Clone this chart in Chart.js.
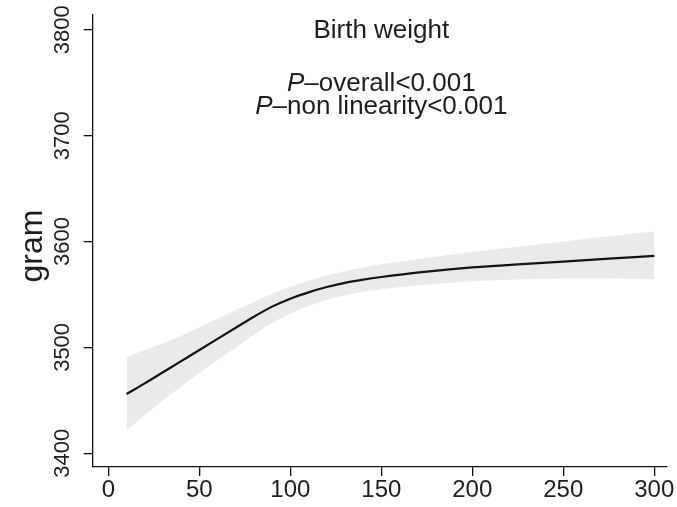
<!DOCTYPE html>
<html>
<head>
<meta charset="utf-8">
<script src="https://cdn.jsdelivr.net/npm/chart.js@4/dist/chart.umd.min.js"></script>
<style>
    html, body { margin: 0; padding: 0; background: #fff; }
    #wrap { width: 677px; height: 507px; }
</style>
</head>
<body>
<div id="wrap"><canvas id="splineChart" width="677" height="507"></canvas></div>
<script>
// exposure values (x) and fitted birth weight with 95% CI (grams)
const xVals  = [10, 20, 30, 40, 50, 60, 70, 80, 90, 100, 110, 120, 130, 140, 150, 175, 200, 225, 250, 275, 300];
const fit    = [3456, 3466, 3476.5, 3487, 3497.5, 3508, 3518.5, 3529, 3538.5, 3546, 3552, 3557, 3561, 3564, 3566.5, 3571.5, 3575.5, 3578.5, 3581, 3583.8, 3586.5];
const upper  = [3491, 3497.5, 3504, 3511, 3519, 3527, 3535, 3543, 3550.5, 3557, 3563, 3568, 3572, 3575.5, 3578.5, 3584.5, 3590, 3595, 3600, 3605, 3609.5];
const lower  = [3422, 3436, 3450, 3463, 3476, 3488, 3500, 3512, 3523, 3532, 3539, 3545, 3549, 3552.5, 3555, 3559.5, 3562.5, 3564.2, 3565, 3565, 3564.5];

const xTicks = [0, 50, 100, 150, 200, 250, 300];
const yTicks = [3400, 3500, 3600, 3700, 3800];

const titleText = 'Birth weight';
const pLines = [
    { prefix: 'P', rest: '\u2013overall<0.001', at: 3749 },
    { prefix: 'P', rest: '\u2013non linearity<0.001', at: 3727 },
];

const FONT = "'Liberation Sans', Arial, Helvetica, sans-serif";
const textColor = '#1e1e1e';

const pts = arr => xVals.map((x, i) => ({ x, y: arr[i] }));

// y tick labels (rotated), axis title and the text block in the plot
const textPlugin = {
    id: 'textPlugin',
    afterDraw(chart) {
        const { ctx, scales: { x, y } } = chart;
        ctx.save();
        ctx.fillStyle = textColor;
        ctx.textAlign = 'center';
        ctx.textBaseline = 'middle';

        ctx.font = `22px ${FONT}`;
        yTicks.forEach(v => {
            ctx.save();
            ctx.translate(63, y.getPixelForValue(v));
            ctx.rotate(-Math.PI / 2);
            ctx.fillText(String(v), 0, 0);
            ctx.restore();
        });

        ctx.save();
        ctx.font = `32px ${FONT}`;
        ctx.translate(33, (chart.chartArea.top + chart.chartArea.bottom) / 2 + 5);
        ctx.rotate(-Math.PI / 2);
        ctx.fillText('gram', 0, 0);
        ctx.restore();

        const cx = x.getPixelForValue(150);
        ctx.font = `26px ${FONT}`;
        ctx.fillText(titleText, cx, y.getPixelForValue(3799));

        pLines.forEach(l => {
            const py = y.getPixelForValue(l.at);
            ctx.font = `italic 26px ${FONT}`;
            const w1 = ctx.measureText(l.prefix).width;
            ctx.font = `26px ${FONT}`;
            const w2 = ctx.measureText(l.rest).width;
            const x0 = cx - (w1 + w2) / 2;
            ctx.textAlign = 'left';
            ctx.font = `italic 26px ${FONT}`;
            ctx.fillText(l.prefix, x0, py);
            ctx.font = `26px ${FONT}`;
            ctx.fillText(l.rest, x0 + w1, py);
            ctx.textAlign = 'center';
        });
        ctx.restore();
    }
};

new Chart(document.getElementById('splineChart').getContext('2d'), {
    type: 'line',
    data: {
        datasets: [
            { label: 'fit', data: pts(fit), borderColor: '#141414', borderWidth: 2.2, pointRadius: 0, fill: false, cubicInterpolationMode: 'monotone' },
            { label: 'lower', data: pts(lower), borderWidth: 0, pointRadius: 0, fill: false, cubicInterpolationMode: 'monotone' },
            { label: 'upper', data: pts(upper), borderWidth: 0, pointRadius: 0, fill: '-1', backgroundColor: '#e9eaea', cubicInterpolationMode: 'monotone' }
        ]
    },
    options: {
        responsive: false,
        animation: false,
        layout: { padding: { top: 15, right: 10, left: 0, bottom: 0 } },
        plugins: { legend: { display: false }, tooltip: { enabled: false } },
        scales: {
            x: {
                type: 'linear', min: -8.6, max: 307,
                afterBuildTicks: s => { s.ticks = xTicks.map(v => ({ value: v })); },
                afterFit: s => { s.height = 40; },
                grid: { drawOnChartArea: false, drawTicks: true, tickLength: 9, color: '#111', lineWidth: 1.3 },
                border: { display: true, color: '#111', width: 1.3 },
                ticks: { color: textColor, font: { family: FONT, size: 24 }, padding: 0, maxRotation: 0 }
            },
            y: {
                type: 'linear', min: 3387, max: 3814,
                afterBuildTicks: s => { s.ticks = yTicks.map(v => ({ value: v })); },
                afterFit: s => { s.width = 92.7; },
                grid: { drawOnChartArea: false, drawTicks: true, tickLength: 9, color: '#111', lineWidth: 1.3 },
                border: { display: true, color: '#111', width: 1.3 },
                ticks: { display: false }
            }
        }
    },
    plugins: [textPlugin]
});
</script>
</body>
</html>
